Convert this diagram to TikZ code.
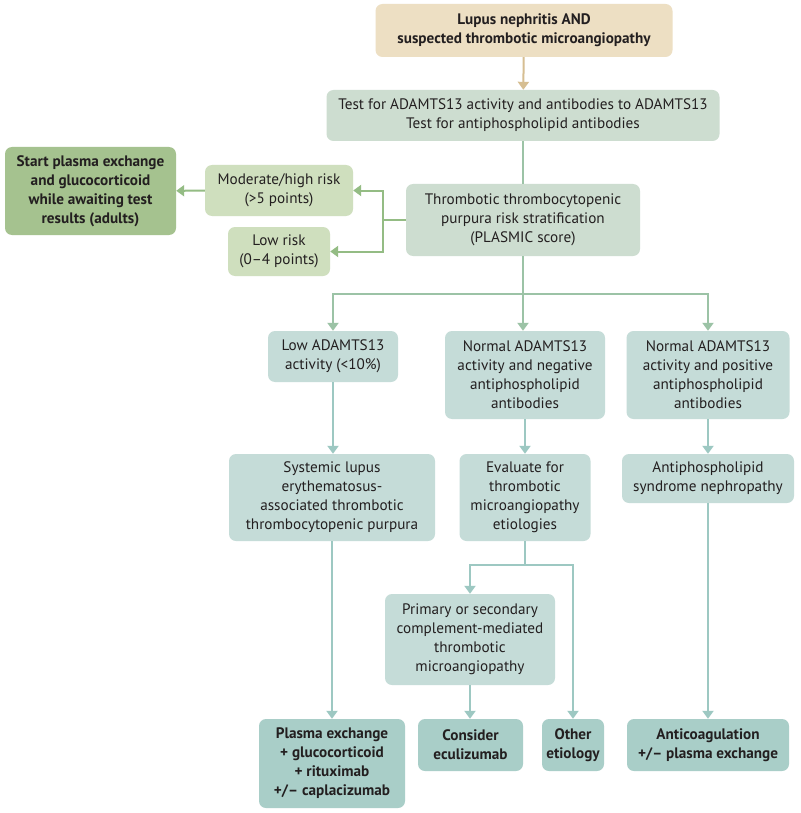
\documentclass[tikz,border=0pt]{standalone}
\usepackage{fontspec}
\setmainfont{PT Sans}
\usetikzlibrary{arrows.meta,positioning}
\definecolor{txt}{HTML}{231F20}
\definecolor{tanfill}{HTML}{EDDFC3}
\definecolor{tanline}{HTML}{D6BE92}
\definecolor{graygreen}{HTML}{CDDDD0}
\definecolor{darkgreen}{HTML}{A5C28F}
\definecolor{lightgreen}{HTML}{CFDFBE}
\definecolor{greenline}{HTML}{94BC84}
\definecolor{branchline}{HTML}{9CC3A6}
\definecolor{tealfill}{HTML}{C5DCD8}
\definecolor{tealdark}{HTML}{A9CEC8}
\definecolor{tealline}{HTML}{9DC8C2}
\tikzset{
  x=1pt,y=-1pt,
  base/.style={rounded corners=7pt, inner sep=0pt, align=center, text=txt,
    font=\fontsize{15.2}{19}\selectfont},
  tanbox/.style={base, fill=tanfill, font=\fontsize{15.2}{19}\selectfont\bfseries},
  ggbox/.style={base, fill=graygreen},
  dgbox/.style={base, fill=darkgreen, font=\fontsize{15.2}{19}\selectfont\bfseries},
  lgbox/.style={base, fill=lightgreen},
  tbox/.style={base, fill=tealfill},
  tdbox/.style={base, fill=tealdark, font=\fontsize{15.2}{19}\selectfont\bfseries},
  arr/.style={line width=2pt, -{Triangle[length=8pt,width=11pt]}},
  tanarr/.style={arr, draw=tanline},
  garr/.style={arr, draw=greenline},
  barr/.style={arr, draw=branchline},
  tarr/.style={arr, draw=tealline},
}
\begin{document}
\begin{tikzpicture}
\useasboundingbox (0,0) rectangle (800,813);
\fill[white] (0,0) rectangle (800,813);
% row 1
\node[tanbox, minimum width=297pt, minimum height=53pt] (top) at (524,30.5) {Lupus nephritis AND\\suspected thrombotic microangiopathy};
\node[ggbox, minimum width=393pt, minimum height=51pt] (test) at (523,115.5) {Test for ADAMTS13 activity and antibodies to ADAMTS13\\Test for antiphospholipid antibodies};
% risk
\node[dgbox, minimum width=171pt, minimum height=88pt] (start) at (90.5,191) {Start plasma exchange\\and glucocorticoid\\while awaiting test\\results (adults)};
\node[lgbox, minimum width=148pt, minimum height=51pt] (mod) at (279,190.5) {Moderate/high risk\\(>5 points)};
\node[lgbox, minimum width=102pt, minimum height=49pt] (low) at (279,251.5) {Low risk\\(0–4 points)};
\node[ggbox, minimum width=234pt, minimum height=72pt] (ttp) at (523,220) {Thrombotic thrombocytopenic\\purpura risk stratification\\(PLASMIC score)};
% row 3
\node[tbox, minimum width=130pt, minimum height=51pt] (lowa) at (333,356.5) {Low ADAMTS13\\activity (<10\%)};
\node[tbox, minimum width=160pt, minimum height=88pt] (neg) at (525,375) {Normal ADAMTS13\\activity and negative\\antiphospholipid\\antibodies};
\node[tbox, minimum width=163pt, minimum height=88pt] (pos) at (708,375) {Normal ADAMTS13\\activity and positive\\antiphospholipid\\antibodies};
% row 4
\node[tbox, minimum width=206pt, minimum height=87pt] (sle) at (332,497.5) {Systemic lupus\\erythematosus-\\associated thrombotic\\thrombocytopenic purpura};
\node[tbox, minimum width=131pt, minimum height=87pt] (eval) at (525,497.5) {Evaluate for\\thrombotic\\microangiopathy\\etiologies};
\node[tbox, minimum width=172pt, minimum height=49pt] (aps) at (708,478.5) {Antiphospholipid\\syndrome nephropathy};
% row 5
\node[tbox, minimum width=170pt, minimum height=91pt] (prim) at (470,639.5) {Primary or secondary\\complement-mediated\\thrombotic\\microangiopathy};
% bottom
\node[tdbox, minimum width=146pt, minimum height=89pt] (pe) at (332,763.5) {Plasma exchange\\+ glucocorticoid\\+ rituximab\\+/– caplacizumab};
\node[tdbox, minimum width=105pt, minimum height=52pt] (ecu) at (470.5,745) {Consider\\eculizumab};
\node[tdbox, minimum width=62pt, minimum height=52pt] (oth) at (573,745) {Other\\etiology};
\node[tdbox, minimum width=162pt, minimum height=52pt] (anti) at (708,745) {Anticoagulation\\+/– plasma exchange};
% coordinates
\coordinate (rj) at (383,220);
\coordinate (bj) at (523,294);
\coordinate (ej) at (525,565);
% connectors
\draw[tanarr] (top) -- (test);
\draw[line width=2pt, draw=branchline] (test) -- (ttp);
\draw[line width=2pt, draw=greenline] (ttp.west) -- (rj);
\draw[garr] (rj) |- (mod.east);
\draw[garr] (rj) |- (low.east);
\draw[garr] (mod) -- (start);
\draw[line width=2pt, draw=branchline] (ttp.south) -- (bj);
\draw[barr] (bj) -| (lowa.north);
\draw[barr] (bj) -| (pos.north);
\draw[barr] (ttp.south) -- (bj) -- (neg.north -| bj);
\draw[tarr] (lowa) -- (lowa.south |- sle.north);
\draw[tarr] (neg) -- (eval);
\draw[tarr] (pos) -- (aps);
\draw[line width=2pt, draw=tealline] (eval.south) -- (ej);
\draw[tarr] (ej) -| (prim.north);
\draw[tarr] (ej) -| (oth.north);
\draw[tarr] (sle.south) -- (pe.north);
\draw[tarr] (prim.south) -- (prim.south |- ecu.north);
\draw[tarr] (aps) -- (anti);
\end{tikzpicture}
\end{document}
